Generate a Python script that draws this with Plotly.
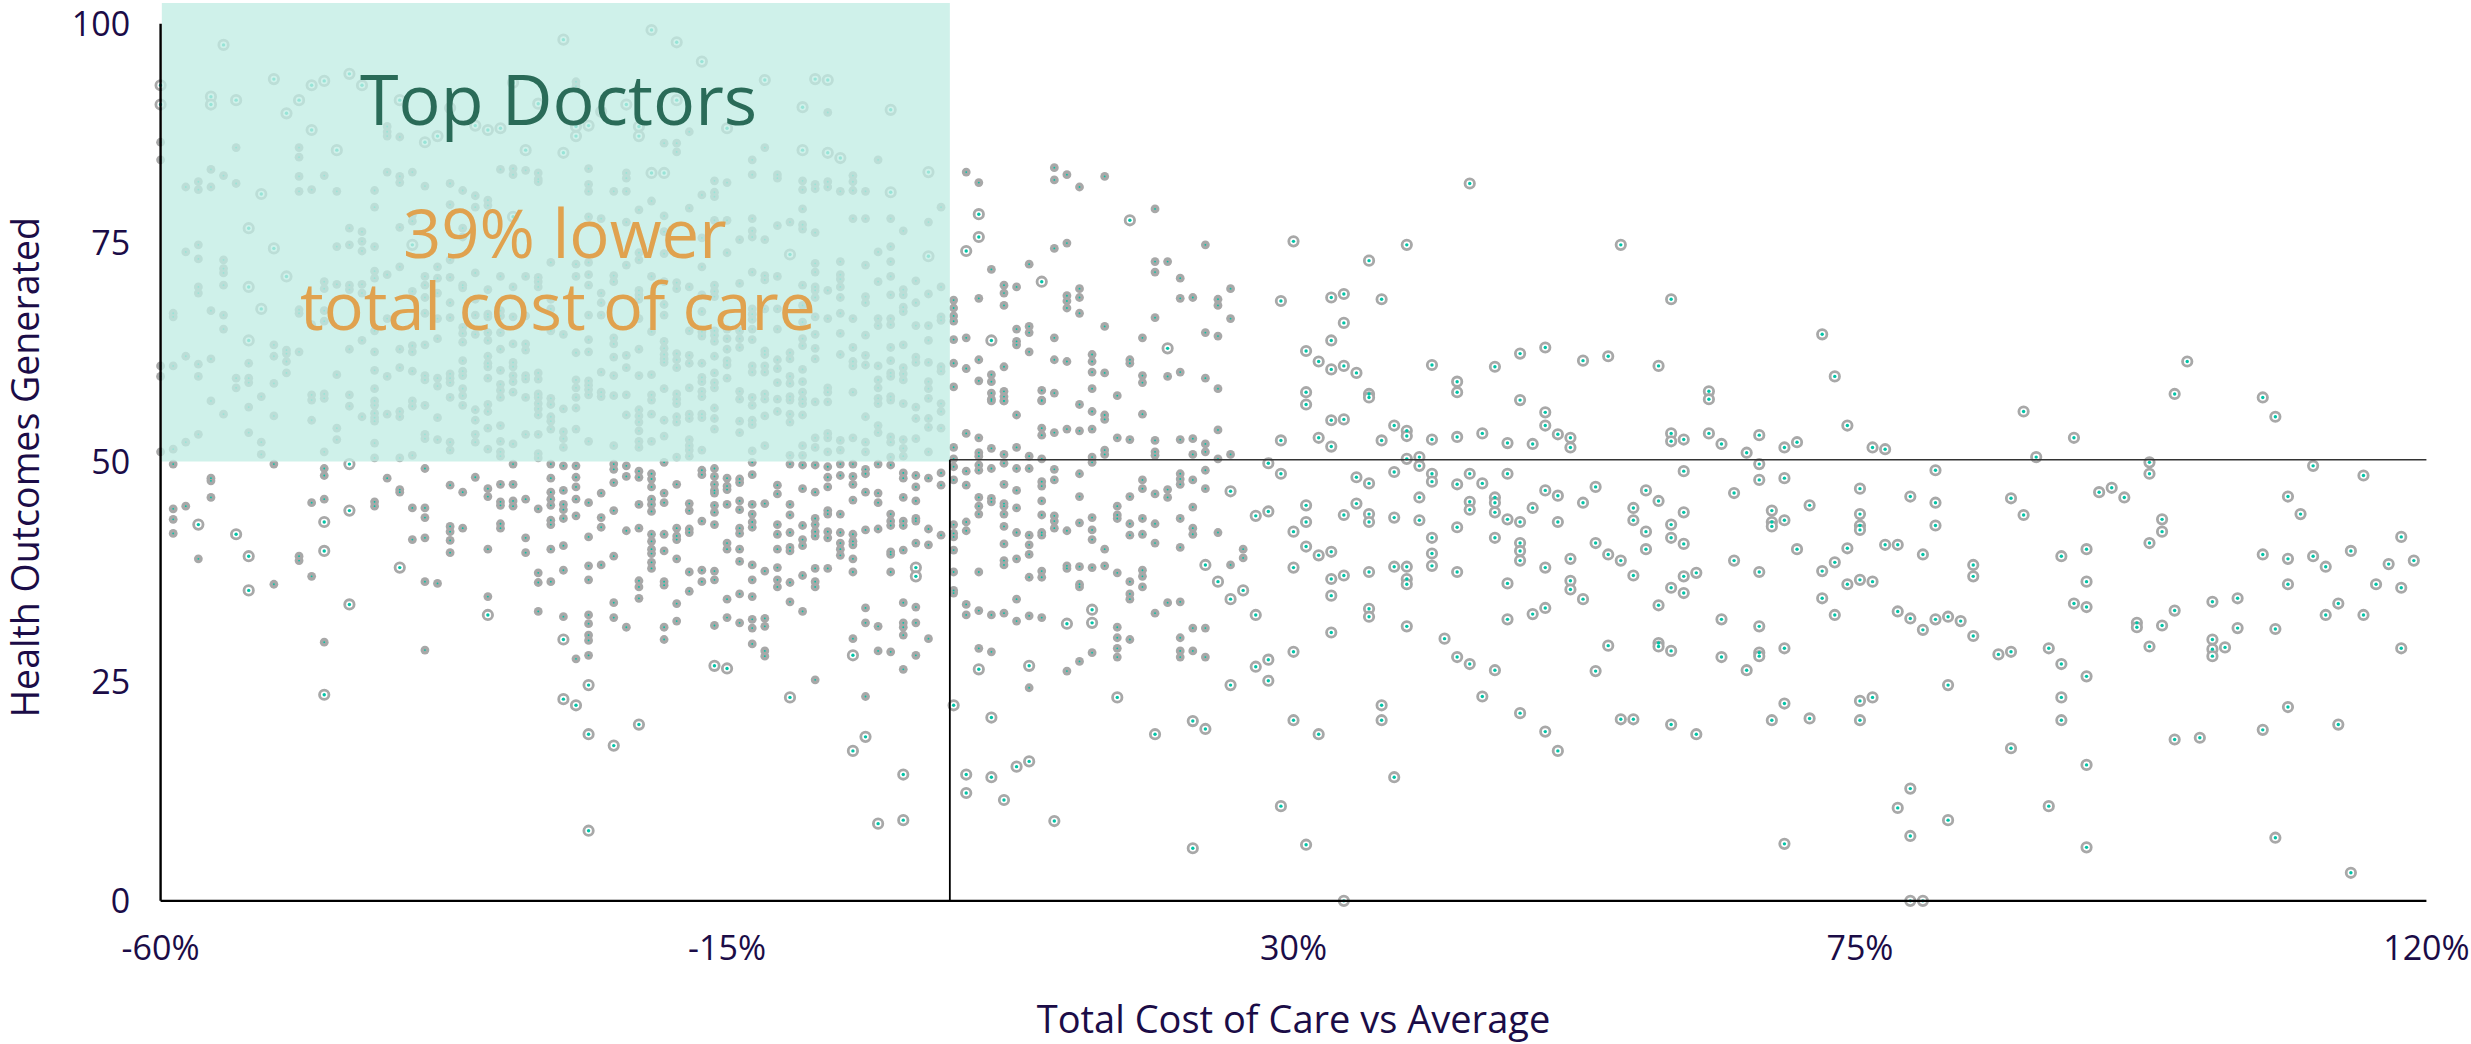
import plotly.graph_objects as go

# (cost %, outcomes) pairs, grouped by region.
large_top = [(-55,97.6),(-60,93.0),(-60,90.8),(-56,91.7),(-56,90.8),(-54,91.3),(-51,93.7),(-50,89.8),(-49,91.3),(-48,93.0),(-48,87.9),(-47,93.5),(-45,94.3),(-44,93.0),(-46,85.6),(-41,91.3),(-39,86.5),(-38,87.2),(-35,88.4),(-34,87.9),(-33,88.1),(-32,93.3),(-31,85.6),(-37,90.4),(-30,90.9),(-52,80.6),(-53,76.7),(-32,78.0),
(-28,98.2),(-21,99.3),(-19,97.9),(-17,95.7),(-12,93.6),(-8,93.7),(-7,93.6),(-23,90.8),(-19,91.3),(-9,90.5),(-2,90.2),(-26,88.4),(-27,87.2),(-22,87.2),(-15,88.1),(-27,88.3),(-22,88.3),(-28,85.3),(-9,85.6),(-7,85.3),(-6,84.7),(-21,83.0),(-20,83.0),(1,83.1),(-2,80.8),(-25,90.0),
(-51,74.4),(-50,71.2),(-53,70.0),(-52,67.5),(-53,63.9),(-40,74.8),(-10,73.7),(1,73.5)]

large_low_left = [(-45,49.8),(-57,42.9),(-54,41.8),(-53,39.3),(-53,35.4),(-47,43.2),(-47,39.9),(-45,44.5),(-41,38.0),(-45,33.8),(-34,32.6),(-47,23.5),
(0,38.0),(0,37.0),(-28,29.8),(-5,28.0),(-16,26.8),(-15,26.5),(-26,24.6),(-28,23.0),(-27,22.3),(-10,23.2),(3,22.3),
(-22,20.1),(-26,19.0),(-24,17.7),(-4,18.7),(-5,17.1),(-1,14.4),(4,14.4),(4,12.3),(-3,8.8),(-1,9.2),(-26,8.0)]

large_mid_a = [(25,46.7),(23,38.3),(24,36.4),(26,35.4),(25,34.4),(14,33.2),(14,31.7),(12,31.6),
(5,78.3),(5,75.7),(4,74.1),(17,77.6),(10,70.6),(6,63.9),(20,63.0),(30,75.2),(44,81.8),(39,74.8),(36,73.0),(56,74.8),(29,68.4),(33,68.8),(34,69.2),(37,68.6),(60,68.6),(34,65.9),(33,63.9),(31,62.7),(32,61.5),(33,60.6),(34,61.0),(35,60.2),(41,61.1),(46,60.9),(48,62.4),(50,63.1),(53,61.6),(55,62.1),(59,61.0),(43,59.2),(43,58.0),(31,58.0),(31,56.6),(36,57.8),(36,57.4),(48,57.1),(63,58.1),(63,57.2),(50,55.7),(50,54.2),(33,54.8),(34,54.9),(38,54.2),(39,53.6),(39,53.0),(29,52.5),(32,52.8),(33,51.8),(37,52.5),(41,52.6),(43,52.9),(45,53.3),(47,52.2),(49,52.1),(51,53.2),(52,52.8),(52,51.7),(60,53.3),(60,52.4),(61,52.6),(63,53.3),(64,52.1),(66,51.1)]

large_mid_b = [(39,50.4),(40,50.6),(40,49.6),(28,49.9),(29,48.7),(38,48.9),(41,48.7),(41,47.8),(44,48.7),(45,47.6),(47,48.7),(61,49.0),(43,47.5),(35,48.3),(36,47.6),(40,46.0),(54,47.2),(51,46.2),(50,46.8),(58,46.8),(59,45.6),(65,46.5),(44,45.5),(44,44.6),(46,46.0),(46,45.4),(46,44.3),(53,45.4),(49,44.8),(57,44.8),(31,45.1),(31,43.2),(35,45.3),(27,43.9),(28,44.4),(34,44.0),(36,44.1),(36,43.2),(38,43.7),(40,43.4),(47,43.5),(48,43.2),(51,43.2),(61,44.3),(57,43.4),(43,42.6),(60,42.9),(30,42.1),(58,42.1),(41,41.4),(46,41.4),(60,41.4),(48,40.8),(48,39.9),(48,38.8),(54,40.8),(61,40.7),(31,40.4),(32,39.4),(33,39.8),(41,39.6),(41,38.2),(58,40.1),(55,39.5),(56,38.8),(52,39.0),(65,38.8),(30,38.0),(38,38.1),(39,38.1),(36,37.5),(43,37.5),(50,38.0),(34,37.1),(33,36.7),(39,36.7),(39,36.1),(47,36.2),(52,36.5),(52,35.5),(57,37.1),(61,37.0),(62,37.4),(60,35.7),(61,35.1),(33,34.8),(53,34.4),(59,33.7),(36,33.3),(36,32.4),(27,32.6),(50,33.4),(49,32.7),(47,32.1),(64,32.1),(39,31.3),(33,30.6),(42,29.9),(55,29.1),(59,29.4),(59,29.0),(60,28.5),(43,27.8),(44,27.0),(46,26.3),(30,28.4),(28,27.5),(27,26.7),(54,26.2),(64,27.8),(66,26.3),(5,26.4),(9,26.8),(25,24.6),(28,25.1),(16,23.2),(45,23.3),(6,20.9),(37,22.3),(37,20.6),(22,20.5),(23,19.6),(19,19.0),(30,20.6),(32,19.0),(48,21.4),(50,19.3),(51,17.1),(56,20.7),(57,20.7),(60,20.1),(62,19.0),(9,15.9),(8,15.3),(6,14.1),(7,11.5),(11,9.1),(38,14.1),(29,10.8),(22,6.0),(31,6.4),(34,0)]

large_right = [(72,64.6),(73,59.8),(74,54.2),(67,53.1),(69,51.7),(70,52.3),(76,51.7),(77,51.5),(67,49.8),(67,48.0),(69,48.2),(75,47.0),(71,45.1),(68,44.5),(68,43.2),(68,42.7),(69,43.4),(75,44.1),(75,42.8),(75,42.3),(70,40.1),(74,40.2),(77,40.6),(78,40.6),(80,39.5),(73,38.6),(72,37.6),(67,37.5),(74,36.1),(75,36.6),(76,36.4),(84,38.3),(84,37.0),(72,34.5),(73,32.6),(67,31.3),(69,28.8),(67,28.3),(67,27.9),(68,20.6),(69,22.5),(71,20.8),(75,22.8),(76,23.2),(75,20.6),(69,6.5),(81,49.1),(81,45.4),(81,42.8),(79,46.1),(78,33.0),(79,32.2),(80,30.9),(81,32.1),(82,32.4),(83,31.9),(84,30.2),(82,24.6),(79,12.8),(78,10.6),(82,9.2),(79,7.4),(79,0),(80,0),
(86,28.1),(87,28.4),(87,45.9),(88,44.0),(88,55.8),(89,50.6),(92,52.8),(94,46.6),(95,47.1),(96,46.0),(98,50.0),(98,48.7),(99,43.5),(99,42.1),(98,40.8),(91,39.3),(93,40.1),(93,36.4),(92,33.9),(93,33.5),(97,31.7),(97,31.2),(99,31.4),(100,33.1),(98,29.0),(90,28.8),(91,27.0),(93,25.6),(91,23.2),(91,20.6),(87,17.4),(93,15.5),(90,10.8),(93,6.1),
(101,61.5),(100,57.8),(107,57.4),(108,55.2),(111,49.6),(115,48.5),(109,46.1),(110,44.1),(118,41.5),(107,39.5),(109,39.0),(111,39.3),(112,38.1),(114,39.9),(117,38.4),(119,38.8),(109,36.1),(116,36.1),(118,35.7),(103,34.1),(105,34.5),(105,31.1),(108,31.0),(112,32.6),(113,33.9),(115,32.6),(103,29.8),(103,28.7),(103,27.9),(104,28.9),(118,28.8),(109,22.1),(107,19.5),(113,20.1),(100,18.4),(102,18.6),(108,7.2),(114,3.2)]

small_a = [(-60,86.5),(-60,84.5),(-54,85.9),(-49,85.9),(-49,84.8),(-42,88.3),(-42,87.7),(-42,87.2),(-41,87.1),(-56,83.4),(-55,82.7),(-58,81.4),(-57,82.0),(-57,81.1),(-56,81.4),(-54,81.8),(-49,82.6),(-49,80.9),(-48,81.1),(-47,82.7),(-46,80.9),(-43,81.0),(-43,79.1),(-42,83.1),(-41,82.6),(-41,81.9),(-40,83.1),(-39,81.5),(-37,81.8),(-37,79.4),(-36,81.0),(-35,80.4),(-35,79.1),(-34,79.9),(-34,79.3),(-33,83.4),(-32,83.5),(-32,82.8),(-31,83.3),(-30,83.0),(-30,82.3),(-30,82.0),(-40,78.2),(-40,77.5),(-41,76.8),(-45,76.7),(-44,76.3),(-36,76.7),(-36,75.7)]

small_b = [(-7,89.9),(-18,87.7),(-20,86.4),(-19,86.4),(-19,85.4),(-12,85.9),(-13,84.5),(-3,84.5),(-26,83.5),(-23,83.0),(-23,82.4),(-13,82.8),(-11,82.8),(-11,82.4),(-16,82.1),(-15,81.9),(-5,82.7),(-5,82.0),(-9,82.1),(-9,81.1),(-8,81.7),(-8,81.2),(-7,82.0),(-7,81.4),(-26,81.7),(-26,80.9),(-24,80.9),(-23,80.9),(-17,80.5),(-16,80.8),(-16,80.3),(-6,80.9),(-5,81.0),(-4,80.9),(-21,79.8),(-22,78.8),(-18,79.0),(-9,78.9),(2,79.1),(-26,78.0),(-25,77.8),(-23,77.4),(-20,78.1),(-16,77.6),(-15,77.6),(-13,77.8),(-5,77.8),(-4,77.8),(-2,77.8),(-11,77.0),(-10,77.4),(-9,77.1),(-9,76.6),(1,77.4),(-1,76.4),(-13,76.4),(-13,75.7),(-8,76.2),(-20,76.3),(-17,75.6),(-14,75.4),(-12,75.4),(-27,93.4),(-27,92.9)]

small_c = [(-59,67.0),(-59,66.6),(-58,74.0),(-57,74.8),(-57,73.2),(-55,73.1),(-55,72.1),(-55,71.6),(-57,70.0),(-57,69.3),(-55,70.2),(-56,67.3),(-55,66.8),(-55,65.2),(-58,62.1),(-57,61.2),(-56,61.8),(-57,59.8),(-59,61.0),(-60,61.0),(-60,59.8),(-54,59.6),(-54,58.5),(-53,59.6),(-53,59.1),(-53,61.3),(-51,63.4),(-51,62.1),(-50,62.8),(-50,62.4),(-50,61.5),(-49,62.6),(-50,60.2),(-51,59.0),(-49,67.4),(-49,67.0),(-47,70.6),(-47,69.8),(-46,70.3),(-45,70.2),(-45,69.7),(-44,70.3),(-44,69.3),(-46,74.6),(-45,74.8),(-44,75.2),(-44,74.1),(-43,74.6),(-43,71.8),(-43,71.0),(-42,71.4),(-41,72.3),(-39,71.2),(-39,70.2),(-39,68.8),(-39,67.0),(-38,72.3),(-38,71.0),(-38,69.3),(-38,66.4),(-37,71.1),(-37,68.2),(-37,66.5),(-37,73.1),(-36,70.2),(-36,69.9),(-35,71.6),(-35,68.6),(-35,66.8),(-34,69.7),(-34,66.9),(-34,66.6),(-33,71.2),(-33,67.3),(-33,66.7),(-32,70.0),(-32,66.6),(-31,71.2),(-30,71.1),(-30,70.6),(-30,70.0),(-29,72.8),(-29,68.6),(-29,67.5),(-31,66.7),(-47,67.3),(-47,66.1),(-40,69.5),(-42,66.4),(-43,65.0),(-48,65.7),(-36,65.4),(-36,64.7),(-35,64.6),(-34,64.8),(-33,64.8),(-29,65.0),(-38,64.1),(-34,63.9),(-44,63.9),(-36,63.7),(-45,62.9),(-43,62.6),(-41,62.9),(-40,63.3),(-40,62.6),(-39,63.4),(-34,62.1),(-33,62.9),(-32,63.5),(-31,63.5),(-31,62.8),(-36,61.6),(-34,61.3),(-34,60.9),(-43,60.5),(-41,60.8),(-40,60.4),(-33,60.5),(-32,61.4),(-32,60.9),(-36,60.4),(-36,59.9),(-37,60.1),(-37,59.6),(-37,59.1),(-46,60.0),(-42,59.8),(-39,59.9),(-39,59.4),(-38,59.6),(-38,58.7),(-34,59.6),(-32,59.9),(-32,59.2),(-31,59.9),(-31,59.5),(-30,60.2),(-30,59.5),(-33,58.9),(-33,58.2),(-43,58.4),(-36,58.4),(-36,57.6),(-32,58.0),(-33,57.4),
(-56,57.0),(-52,57.5),(-53,56.3),(-48,57.7),(-48,57.1),(-47,57.8),(-47,57.3),(-45,57.7),(-45,56.4),(-43,57.0),(-43,56.5),(-40,57.0),(-40,56.4),(-39,56.5),(-37,57.4),(-36,56.5),(-34,56.6),(-34,55.8),(-31,57.4),(-30,57.8),(-30,57.4),(-30,56.7),(-30,56.1),(-30,55.4),(-29,57.3),(-29,56.6),(-29,55.2),(-29,54.7),(-35,56.0),(-35,54.8),(-55,55.5),(-51,55.3),(-48,54.8),(-44,55.2),(-43,55.6),(-43,55.1),(-43,54.7),(-42,55.5),(-41,55.8),(-41,55.2),(-38,55.1),(-33,54.2),(-34,53.9),(-29,53.8),(-46,53.9),(-57,53.2),(-53,53.4),(-58,52.3),(-52,52.3),(-46,52.6),(-43,52.2),(-39,53.2),(-39,52.7),(-38,52.6),(-37,52.3),(-37,51.4),(-35,53.2),(-35,52.3),(-33,52.4),(-32,52.1),(-31,53.2),(-30,53.2),(-59,51.5),(-60,51.2),(-52,50.9),(-47,51.2),(-43,50.5),(-41,50.5),(-40,50.8),(-34,51.5),(-33,51.2),(-33,50.7),(-30,51.0),(-30,50.5),
(-59,49.8),(-51,49.8),(-47,49.3),(-47,48.5),(-39,49.3),(-32,49.8),(-29,49.8),(-56,48.2),(-42,48.2),(-35,48.3),(-29,48.2)]

small_d = [(-26,72.8),(-27,72.6),(-22,73.9),(-22,73.1),(-20,73.8),(-23,72.5),(-15,73.9),(-17,72.3),(-13,71.7),(-12,71.3),(-12,70.8),(-11,71.2),(-8,72.7),(-8,71.7),(-6,72.9),(-6,71.4),(-6,70.9),(-6,70.0),(-6,68.8),(-6,67.0),(-6,64.7),(-6,62.3),(-4,72.5),(-3,74.0),(-2,74.6),(-2,72.9),(-2,71.2),(-3,70.6),(-24,71.3),(-24,70.6),(-27,71.2),(-26,71.4),(-26,70.2),(-21,71.2),(-20,70.6),(-19,70.5),(-19,69.8),(-18,70.0),(-16,70.2),(-14,70.4),(-9,70.2),(-8,70.0),(-8,69.6),(-8,68.8),(-7,69.6),(0,70.7),(2,70.0),(-25,69.3),(-22,69.6),(-22,69.1),(-22,68.6),(-25,68.2),(-26,66.8),(-25,66.8),(-22,66.4),(-20,68.0),(-20,66.8),(-17,69.1),(-16,69.5),(-16,68.9),(-17,67.2),(-13,67.5),(-13,66.9),(-13,66.3),(-12,67.5),(-11,67.5),(-9,67.9),(-9,66.0),(-8,66.6),(-7,66.4),(-5,66.4),(-4,68.9),(-4,68.2),(-2,69.1),(-1,69.7),(-1,69.1),(-1,67.7),(-1,67.2),(0,68.2),(1,69.2),(-3,66.4),(-3,65.6),(-2,66.4),(-2,65.7),(0,65.6),(1,65.6),(2,66.6),(2,66.2),(-11,65.2),(-28,64.6),(-21,64.9),(-18,65.0),(-17,64.9),(-17,64.4),(-16,65.0),(-16,64.5),(-16,63.8),(-15,65.2),(-15,64.1),(-14,65.0),(-14,64.1),(-13,65.2),(-13,64.0),(-8,64.6),(-4,64.5),(-24,64.2),(-24,63.5),(-26,64.0),(-9,64.1),(-9,63.3),(1,63.9),
(-22,62.9),(-20,63.8),(-20,63.0),(-20,62.3),(-20,61.8),(-20,61.4),(-15,62.9),(-14,63.1),(-8,63.0),(-8,61.8),(-5,63.1),(-2,63.1),(-1,63.4),(-27,62.5),(-26,62.6),(-12,62.7),(-12,62.3),(-10,62.5),(-10,61.8),(-19,62.4),(-19,61.7),(-19,60.8),(-18,62.2),(-18,61.3),(-24,62.0),(-23,62.2),(-23,60.8),(-16,62.1),(-17,61.3),(-15,61.6),(-15,61.1),(-11,61.7),(-11,60.7),(-13,61.0),(-13,60.3),(-12,61.0),(-12,60.3),(-9,60.6),(-4,62.2),(-4,61.1),(-5,61.5),(-5,61.0),(-3,61.0),(-2,61.6),(-2,60.2),(-2,59.8),(0,62.0),(0,61.4),(1,61.4),(2,60.9),(2,60.4),(-1,60.8),(-1,60.1),(-1,59.4),(-25,60.3),(-24,59.9),(-22,59.9),(-21,60.0),(-16,60.2),(-16,59.1),(-16,58.5),(-17,59.7),(-17,59.2),(-15,59.6),(-10,59.8),(-10,59.0),(-11,59.1),(-9,59.2),(-27,59.4),(-27,58.5),(-27,57.4),(-26,59.3),(-26,58.8),(-26,58.3),(-26,57.7),(-25,58.0),(-25,57.5),(-24,57.6),(-23,57.7),(-20,58.4),(-18,58.5),(-17,58.1),(-17,57.5),(-21,57.7),(-21,57.1),(-19,57.8),(-19,57.2),(-19,56.7),(-14,58.1),(-14,57.2),(-13,57.4),(-13,56.5),(-12,57.8),(-12,57.2),(-11,57.2),(-10,57.5),(-10,57.1),(-9,58.0),(-9,57.2),(-9,56.7),(-8,56.9),(-7,58.5),(-7,58.0),(-7,56.9),(-5,58.0),(-3,59.4),(-3,58.5),(-3,57.3),(-3,56.7),(-2,57.5),(-2,57.1),(-1,56.7),(0,56.3),(1,59.2),(1,58.4),(1,57.3),(2,56.7),(2,55.8),
(-28,56.1),(-27,56.2),(-23,55.4),(-22,56.0),(-22,55.3),(-22,54.6),(-21,55.5),(-20,54.8),(-19,55.2),(-19,54.6),(-18,55.5),(-18,55.0),(-17,55.5),(-17,55.1),(-16,56.2),(-16,55.0),(-16,53.8),(-14,54.7),(-13,54.8),(-13,54.3),(-12,55.3),(-11,55.8),(-10,55.5),(-10,54.6),(-9,55.4),(-4,55.2),(-3,54.2),(-3,53.4),(0,55.0),(1,55.0),(1,54.0),(2,53.9),(-28,53.5),(-28,52.7),(-28,51.7),(-27,53.8),(-26,52.4),(-22,53.6),(-22,52.4),(-22,51.7),(-24,51.9),(-21,52.4),(-20,53.0),(-18,52.6),(-18,51.9),(-18,51.4),(-18,50.7),(-14,53.4),(-12,51.9),(-13,51.3),(-17,51.4),(-19,50.6),(-10,50.8),(-9,51.9),(-9,50.8),(-8,52.8),(-8,51.7),(-7,53.3),(-7,52.8),(-7,51.2),(-6,52.5),(-6,51.4),(-5,52.8),(-4,52.3),(-4,51.2),(-2,52.9),(-2,52.3),(-2,50.6),(-1,52.6),(-1,51.6),(-1,50.7),(0,52.7),(1,51.2)]

small_e = [(-28,49.6),(-27,49.6),(-27,48.3),(-24,49.8),(-24,49.2),(-23,49.6),(-23,48.4),(-22,49.0),(-22,48.3),(-21,48.7),(-21,48.1),(-20,50.0),(-17,49.1),(-17,48.6),(-16,49.3),(-16,48.4),(-15,48.2),(-14,48.1),(-13,50.0),(-13,48.6),(-10,49.8),(-9,49.7),(-8,49.7),(-7,49.5),(-7,48.3),(-6,49.8),(-6,48.5),(-5,49.8),(-5,48.4),(-4,49.2),(-4,48.7),(-3,49.8),(-2,49.7),(-1,48.8),(-1,48.2),(0,48.5),(1,48.2),(2,48.8),
(-56,47.9),(-56,46.0),(-47,45.8),(-58,45.0),(-59,44.7),(-59,43.5),(-59,41.9),(-57,39.0),(-48,45.4),(-43,45.5),(-43,45.0),(-41,46.9),(-41,46.6),(-40,44.8),(-39,44.8),(-39,43.7),(-37,47.4),(-36,46.6),(-34,47.0),(-34,46.1),(-33,47.5),(-32,47.5),(-33,45.5),(-33,45.1),(-32,45.6),(-32,45.0),(-31,45.8),(-30,44.7),(-29,46.6),(-29,45.8),(-29,45.1),(-37,42.7),(-37,42.1),(-36,42.5),(-40,41.2),(-39,41.4),(-37,41.1),(-37,39.7),(-33,43.0),(-33,42.5),(-31,41.4),(-31,39.7),(-34,40.1),(-29,43.4),(-29,42.9),(-29,40.1),(-49,39.3),(-49,38.8),(-48,37.0),(-51,36.1),(-39,36.4),(-38,36.2),(-30,37.4),(-30,36.3),(-29,36.4),(-34,34.7),(-30,33.0),(-47,29.5),(-39,28.6)]

small_f = [(-28,46.8),(-27,47.2),(-27,45.8),(-25,46.5),(-24,47.7),(-26,45.4),(-28,45.2),(-28,44.6),(-28,43.6),(-27,43.9),(-24,44.5),(-25,43.7),(-25,42.6),(-23,42.2),(-22,45.2),(-22,42.5),(-21,47.2),(-21,45.8),(-21,45.2),(-21,44.4),(-20,46.5),(-20,45.4),(-19,47.5),(-18,45.3),(-18,44.5),(-16,47.5),(-16,46.8),(-16,46.5),(-15,47.3),(-15,46.9),(-14,47.7),(-16,45.1),(-16,44.3),(-15,45.2),(-14,45.6),(-14,44.6),(-13,45.2),(-13,44.1),(-13,43.2),(-13,42.6),(-12,45.3),(-11,47.4),(-11,46.4),(-10,45.2),(-9,47.0),(-8,46.6),(-7,47.2),(-10,44.0),(-7,44.5),(-7,44.1),(-6,44.1),(-5,47.5),(-5,45.7),(-4,46.6),(-3,46.5),(-3,45.4),(-1,46.0),(0,47.2),(0,45.6),(2,47.4),(-17,43.3),(-16,42.9),(-11,42.9),(-9,42.8),(-8,43.6),(-8,42.9),(-8,42.1),(-8,41.6),(-2,44.1),(-2,43.3),(-2,42.8),(-1,43.3),(-1,42.8),(0,43.6),(0,43.3),(1,42.4),(2,41.7),
(-28,40.5),(-26,41.5),(-24,39.3),(-25,38.3),(-26,38.2),(-28,37.7),(-26,36.6),(-22,36.5),(-22,35.8),(-22,34.5),(-24,34.0),(-21,41.8),(-21,41.0),(-21,40.1),(-21,39.6),(-21,38.6),(-21,37.9),(-20,41.8),(-20,39.9),(-19,42.5),(-19,41.6),(-19,41.2),(-18,42.4),(-18,42.0),(-19,39.0),(-18,37.5),(-17,37.7),(-16,37.6),(-14,42.5),(-14,41.9),(-15,40.8),(-15,40.1),(-14,40.1),(-14,38.7),(-13,38.3),(-12,37.6),(-11,41.8),(-11,40.1),(-11,38.0),(-10,42.0),(-10,40.3),(-10,39.9),(-9,41.2),(-9,40.5),(-7,42.1),(-7,41.4),(-6,42.0),(-6,40.8),(-6,40.1),(-6,39.4),(-5,41.8),(-5,41.0),(-5,40.6),(-4,42.3),(-3,42.4),(-2,39.8),(-2,39.5),(-1,40.0),(0,40.8),(1,40.6),(-5,39.0),(-8,37.9),(-7,37.9),(-9,37.1),(-5,37.5),(-2,37.5),
(-20,36.4),(-20,36.0),(-17,36.4),(-16,36.6),(-18,35.3),(-13,36.6),(-11,36.6),(-11,35.8),(-10,36.3),(-8,36.4),(-8,35.8),(-14,35.0),(-15,34.4),(-13,34.7),(-19,33.9),(-10,34.1),(-9,33.0),(-4,33.4),(-1,34.0),(0,33.5),(-28,32.4),(-26,32.6),(-26,31.6),(-24,32.3),(-23,31.2),(-20,31.2),(-19,31.9),(-16,31.4),(-15,32.3),(-14,31.7),(-13,32.1),(-13,31.1),(-12,32.2),(-12,31.3),(-4,31.7),(-3,31.3),(-1,31.7),(-1,31.2),(-1,30.3),(0,31.7),(-26,30.3),(-26,29.7),(-20,29.8),(-13,29.3),(-5,29.9),(1,29.9),(-12,28.5),(-12,27.9),(-3,28.5),(-2,28.4),(-27,27.6),(-26,28.0),(0,28.0),(-1,26.4),(-8,25.2),(-4,23.3)]

small_g = [(6,57.0),(7,57.0),(10,57.0),(13,56.6),(14,55.8),(15,55.4),(15,54.9),(18,55.5),(8,55.4),(10,53.9),(10,53.1),(11,53.4),(12,53.8),(13,53.6),(14,53.8),(4,53.3),(5,52.8),(16,52.8),(17,52.6),(19,52.5),(21,52.6),(22,52.7),(23,52.1),(23,51.2),(24,53.7),(3,51.7),(6,51.6),(8,51.7),(5,51.1),(5,50.7),(7,50.9),(9,50.7),(10,50.4),(15,51.4),(15,50.9),(19,51.2),(19,50.8),(22,50.9),(25,50.9),(24,50.4),(3,50.4),(14,50.6),(14,50.0),(3,49.5),(4,49.0),(5,49.7),(5,49.1),(6,49.3),(7,49.9),(8,49.3),(9,49.3),(11,49.2),(13,48.7),(23,49.1),(3,48.0),(11,48.0),(4,47.4),(7,47.5),(8,46.8),(10,47.8),(10,47.3),(18,48.0),(18,47.0),(21,48.7),(21,48.1),(21,47.5),(22,48.0),(20,46.9),(20,46.0),(19,46.4),(23,47.0),(5,46.0),(5,45.0),(5,44.1),(6,45.9),(6,45.5),(7,45.3),(7,45.0),(7,44.1),(8,44.8),(10,45.6),(13,46.1),(17,46.1),(16,45.0),(16,44.0),(16,43.6),(18,43.6),(21,43.6),(22,44.9),(10,44.0),(11,43.9),(11,43.3),(11,42.5),(14,43.7),(3,42.9),(3,41.9),(3,41.5),(4,43.2),(4,42.2),(7,42.7),(8,42.0),(9,41.7),(10,42.0),(10,41.7),(12,42.2),(13,43.1),(14,42.3),(14,41.2),(17,43.0),(17,41.7),(18,41.8),(19,43.0),(19,40.8),(22,42.5),(22,41.8),(24,42.0),(7,40.7),(9,40.6),(9,39.5),(3,40.0),(15,40.1),(21,40.3),(26,40.1),(26,39.1),(8,39.0),(7,38.8),(7,38.3),(3,37.5),(5,37.5),(10,37.6),(10,36.9),(9,36.9),(12,38.2),(12,37.9),(13,38.1),(14,38.0),(15,38.2),(16,37.4),(17,36.4),(18,37.7),(18,37.0),(18,35.8),(13,36.1),(13,35.8),(25,38.3),(3,35.4),(3,35.1),(8,34.4),(17,35.0),(17,34.4),(20,34.0),(21,34.1),(4,33.8),(4,32.6),(5,33.1),(6,32.6),(7,32.8),(9,32.5),(10,32.3),(8,31.9),(19,32.8),(16,31.2),(22,31.1),(23,31.1),(16,30.0),(17,29.8),(21,30.0),(5,28.8),(6,28.4),(13,27.3),(14,28.3),(12,26.2),(9,24.3),(16,28.8),(16,27.8),(21,28.5),(21,27.8),(22,28.5),(23,27.8)]

small_h = [(4,83.1),(5,81.9),(11,83.6),(11,82.2),(12,82.8),(13,81.4),(15,82.6),(19,78.9),(12,75.0),(11,74.4),(23,74.8),(9,72.6),(6,72.0),(19,72.9),(19,71.7),(20,72.9),(21,71.0),(13,69.8),(7,70.2),(7,69.3),(7,67.9),(8,70.0),(12,69.0),(12,68.4),(12,67.6),(13,68.8),(13,67.0),(25,69.8),(24,68.6),(24,67.9),(21,68.7),(22,68.8),(5,68.7),(3,68.5),(3,67.6),(3,66.7),(3,66.1),(25,66.4),(19,66.5),(15,65.5),(8,65.2),(8,63.8),(8,63.4),(9,65.5),(9,64.8),(23,64.8),(24,64.4),(3,64.0),(4,64.2),(11,64.2),(18,64.2),(9,62.6),(5,61.7),(11,61.7),(12,61.5),(14,62.3),(14,61.5),(14,60.3),(17,61.7),(17,61.3),(3,61.3),(4,60.7),(7,60.9),(15,60.2),(18,59.9),(18,59.1),(20,59.8),(21,60.3),(23,59.6),(5,59.3),(6,60.0),(6,59.2),(3,58.6),(14,58.4),(24,58.4),(6,57.9),(6,57.2),(7,58.1),(7,57.5),(7,57.0),(10,58.2),(10,57.1),(11,57.9),(16,57.6)]

large_points = large_top + large_low_left + large_mid_a + large_mid_b + large_right
small_points = small_a + small_b + small_c + small_d + small_e + small_f + small_g + small_h

large_x = [p[0] for p in large_points]
large_y = [p[1] for p in large_points]
small_x = [p[0] for p in small_points]
small_y = [p[1] for p in small_points]

x_tick_values = [-60, -15, 30, 75, 120]
x_tick_labels = ["-60%", "-15%", "30%", "75%", "120%"]
y_tick_values = [0, 25, 50, 75, 100]
quadrant_x = 2.7
quadrant_y = 50.3

GREY = "#a8a8a8"
TEAL = "#00c4a7"
INK = "#1b0c47"
FONT = "Open Sans"

fig = go.Figure()
fig.add_trace(go.Scatter(x=small_x, y=small_y, mode="markers", showlegend=False,
                         marker=dict(size=8.8, color=GREY, line=dict(width=0))))
fig.add_trace(go.Scatter(x=small_x, y=small_y, mode="markers", showlegend=False,
                         marker=dict(size=1.8, color=TEAL, line=dict(width=0))))
fig.add_trace(go.Scatter(x=large_x, y=large_y, mode="markers", showlegend=False,
                         marker=dict(size=9.4, color="white", line=dict(width=2.8, color=GREY))))
fig.add_trace(go.Scatter(x=large_x, y=large_y, mode="markers", showlegend=False,
                         marker=dict(size=3.4, color=TEAL, line=dict(width=0))))

shapes = [
    dict(type="rect", x0=-60 + 0.1, x1=quadrant_x, y0=quadrant_y - 0.2, y1=102.4, xref="x", yref="y",
         fillcolor="rgba(194,237,228,0.78)", line=dict(width=0), layer="above"),
    dict(type="line", x0=-60, x1=-60, y0=0, y1=100, xref="x", yref="y", line=dict(color="#000000", width=2.4), layer="above"),
    dict(type="line", x0=-60, x1=120, y0=0, y1=0, xref="x", yref="y", line=dict(color="#000000", width=2.2), layer="above"),
    dict(type="line", x0=quadrant_x, x1=quadrant_x, y0=0, y1=quadrant_y, xref="x", yref="y", line=dict(color="#000000", width=1.8), layer="above"),
    dict(type="line", x0=quadrant_x, x1=120, y0=quadrant_y, y1=quadrant_y, xref="x", yref="y", line=dict(color="#333333", width=1.6), layer="above"),
]

annotations = [
    dict(text="Top Doctors", x=-28.4, y=91.5, xref="x", yref="y", showarrow=False,
         font=dict(family=FONT, size=70, color="#2a6b58")),
    dict(text="39% lower", x=-27.9, y=76.3, xref="x", yref="y", showarrow=False,
         font=dict(family=FONT, size=67, color="#e0a24f")),
    dict(text="total cost of care", x=-28.4, y=68.1, xref="x", yref="y", showarrow=False,
         font=dict(family=FONT, size=66.5, color="#e0a24f")),
    dict(text="Health Outcomes Generated", textangle=-90, x=(25 - 148.1) / 2291.4, y=0.49, xref="paper", yref="paper",
         xanchor="center", yanchor="middle", showarrow=False,
         font=dict(family=FONT, size=37.5, color=INK)),
]

fig.update_layout(
    width=2471, height=1044, autosize=False,
    margin=dict(l=148.1, r=31.5, t=3, b=130, autoexpand=False),
    paper_bgcolor="white", plot_bgcolor="white",
    shapes=shapes, annotations=annotations, showlegend=False,
    font=dict(family=FONT, color=INK),
    xaxis=dict(range=[-61, 121], tickmode="array", tickvals=x_tick_values, ticktext=x_tick_labels,
               showgrid=False, zeroline=False, showline=False, ticks="outside", ticklen=4,
               tickcolor="rgba(0,0,0,0)", ticklabeloverflow="allow", tickfont=dict(family=FONT, size=34, color=INK),
               title=dict(text="Total Cost of Care vs Average", font=dict(family=FONT, size=38, color=INK), standoff=39)),
    yaxis=dict(range=[-1.5, 102.38], tickmode="array", tickvals=y_tick_values,
               showgrid=False, zeroline=False, showline=False, ticks="outside", ticklen=10,
               tickcolor="rgba(0,0,0,0)", ticklabeloverflow="allow", tickfont=dict(family=FONT, size=34, color=INK)),
)

fig.write_html("out.html", config={"displayModeBar": False},
               post_script="document.body.style.margin='0';")
